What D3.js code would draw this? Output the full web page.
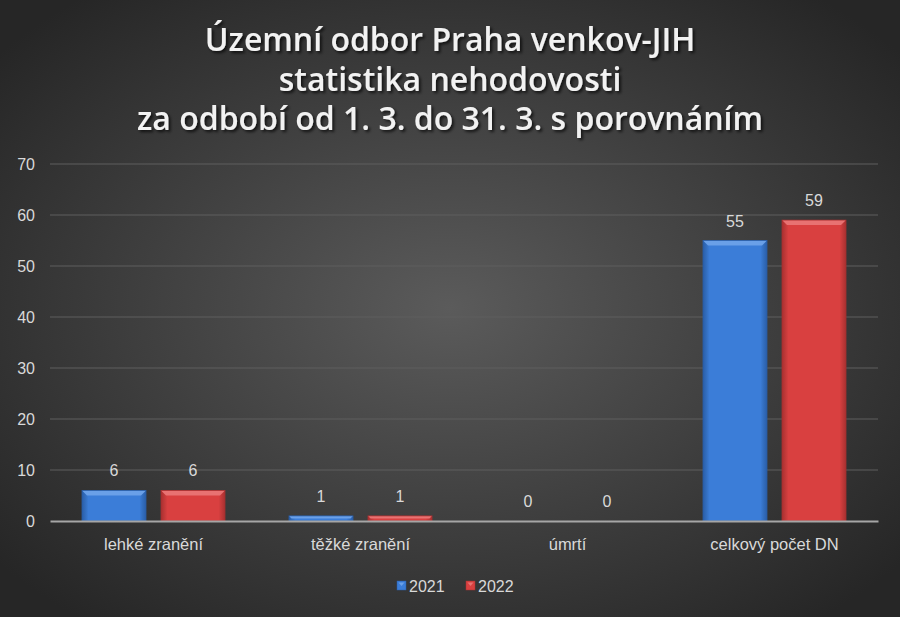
<!DOCTYPE html>
<html><head><meta charset="utf-8">
<script src="https://cdn.jsdelivr.net/npm/d3@7"></script>
<style>html,body{margin:0;padding:0;background:#333;}svg{display:block;}</style>
</head><body>
<script>
const categories = ["lehké zranění", "těžké zranění", "úmrtí", "celkový počet DN"];
const seriesNames = ["2021", "2022"];
const values2021 = [6, 1, 0, 55];
const values2022 = [6, 1, 0, 59];
const yTicks = [0, 10, 20, 30, 40, 50, 60, 70];
const titleLines = ["Územní odbor Praha venkov-JIH", "statistika nehodovosti", "za odbobí od 1. 3. do 31. 3. s porovnáním"];

const W = 900, H = 617;
const FONT = "Liberation Sans, Arial, sans-serif";
const svg = d3.select("body").append("svg").attr("width", W).attr("height", H);
const defs = svg.append("defs");

const bg = defs.append("radialGradient").attr("id", "bg").attr("cx", "50%").attr("cy", "50%").attr("r", "65%");
bg.append("stop").attr("offset", "0%").attr("stop-color", "#5b5b5b");
bg.append("stop").attr("offset", "100%").attr("stop-color", "#262626");
svg.append("rect").attr("width", W).attr("height", H).attr("fill", "url(#bg)");

const sh = defs.append("filter").attr("id", "shadow").attr("x", "-10%").attr("y", "-10%").attr("width", "120%").attr("height", "140%");
sh.append("feDropShadow").attr("dx", 2).attr("dy", 2).attr("stdDeviation", 1.5).attr("flood-color", "#000").attr("flood-opacity", 0.7);

const colors = [
  {base: "#3b7dd8", light: "#6aa0e8", dark: "#2a5ea8", side: "#3470c2"},
  {base: "#d94040", light: "#e87272", dark: "#a83030", side: "#c53a3a"}
];

const x0 = d3.scaleBand().domain(categories).range([50, 878]).paddingInner(0).paddingOuter(0);
const x1 = d3.scaleBand().domain(seriesNames).range([32, 175]).paddingInner(0.19);
const y = d3.scaleLinear().domain([0, 70]).range([521, 164]);

// gridlines
svg.append("g").selectAll("line").data(yTicks.filter(t => t > 0)).join("line")
  .attr("x1", 50).attr("x2", 878).attr("y1", d => y(d)).attr("y2", d => y(d))
  .attr("stroke", "#5f5f5f").attr("stroke-width", 1);

// y axis labels
const yAxis = d3.axisLeft(y).tickValues(yTicks).tickSize(0).tickPadding(0);
const yg = svg.append("g").attr("transform", "translate(35,0)").call(yAxis);
yg.select(".domain").remove();
yg.selectAll("text").attr("fill", "#d9d9d9").style("font-family", FONT).style("font-size", "16px").attr("text-anchor", "end").attr("dy", "0.35em");

// bars
const data = categories.map((c, i) => ({cat: c, vals: [values2021[i], values2022[i]]}));
const gCat = svg.append("g").selectAll("g").data(data).join("g")
  .attr("transform", d => `translate(${x0(d.cat)},0)`);

colors.forEach((c, i) => {
  const lg = defs.append("linearGradient").attr("id", "bar" + i).attr("x1", 0).attr("x2", 1).attr("y1", 0).attr("y2", 0);
  lg.append("stop").attr("offset", "0%").attr("stop-color", c.dark);
  lg.append("stop").attr("offset", "6%").attr("stop-color", c.side);
  lg.append("stop").attr("offset", "10%").attr("stop-color", c.base);
  lg.append("stop").attr("offset", "90%").attr("stop-color", c.base);
  lg.append("stop").attr("offset", "94%").attr("stop-color", c.side);
  lg.append("stop").attr("offset", "100%").attr("stop-color", c.dark);
});

gCat.each(function(d) {
  const g = d3.select(this);
  d.vals.forEach((v, i) => {
    const bx = x1(seriesNames[i]);
    const bw = x1.bandwidth();
    const by = y(v);
    const bh = y(0) - y(v);
    const c = colors[i];
    if (bh > 0) {
      g.append("rect").attr("x", bx).attr("y", by).attr("width", bw).attr("height", bh).attr("fill", "url(#bar" + i + ")");
      const bev = Math.min(5, bh / 2);
      g.append("path")
        .attr("d", `M${bx},${by} L${bx + bw},${by} L${bx + bw - bev},${by + bev} L${bx + bev},${by + bev} Z`)
        .attr("fill", c.light);
      g.append("rect").attr("x", bx).attr("y", by).attr("width", bw).attr("height", bh)
        .attr("fill", "none").attr("stroke", c.dark).attr("stroke-width", 0.8);
    }
    g.append("text").attr("x", bx + bw / 2).attr("y", by - 14)
      .attr("text-anchor", "middle").attr("fill", "#d9d9d9")
      .style("font-family", FONT).style("font-size", "16px")
      .text(v);
  });
});

// baseline axis
const xAxis = d3.axisBottom(x0).tickSize(0).tickPadding(17);
const xg = svg.append("g").attr("transform", `translate(0,${y(0)})`).call(xAxis);
xg.select(".domain").attr("stroke", "#a6a6a6").attr("stroke-width", 2);
xg.selectAll("text").attr("fill", "#d9d9d9").style("font-family", FONT).style("font-size", "16.5px");

// title
svg.append("g").attr("filter", "url(#shadow)").selectAll("text").data(titleLines).join("text")
  .attr("x", 450).attr("y", (d, i) => 51 + i * 39.5)
  .attr("text-anchor", "middle").attr("fill", "#f2f2f2")
  .style("font-family", "Open Sans, sans-serif").style("font-weight", "600").style("font-size", "32px")
  .text(d => d);

// legend
const legend = svg.append("g");
const legX = [397, 466];
seriesNames.forEach((s, i) => {
  const c = colors[i];
  legend.append("rect").attr("x", legX[i]).attr("y", 581).attr("width", 9).attr("height", 9).attr("fill", c.base).attr("stroke", c.dark).attr("stroke-width", 0.5);
  legend.append("path").attr("d", `M${legX[i] + 1.5},${582.5} L${legX[i] + 7.5},${582.5} L${legX[i] + 4.5},${586} Z`).attr("fill", c.light);
  legend.append("text").attr("x", legX[i] + 12).attr("y", 586).attr("dy", "0.35em").attr("fill", "#d9d9d9")
    .style("font-family", FONT).style("font-size", "16px").text(s);
});
</script>
</body></html>
